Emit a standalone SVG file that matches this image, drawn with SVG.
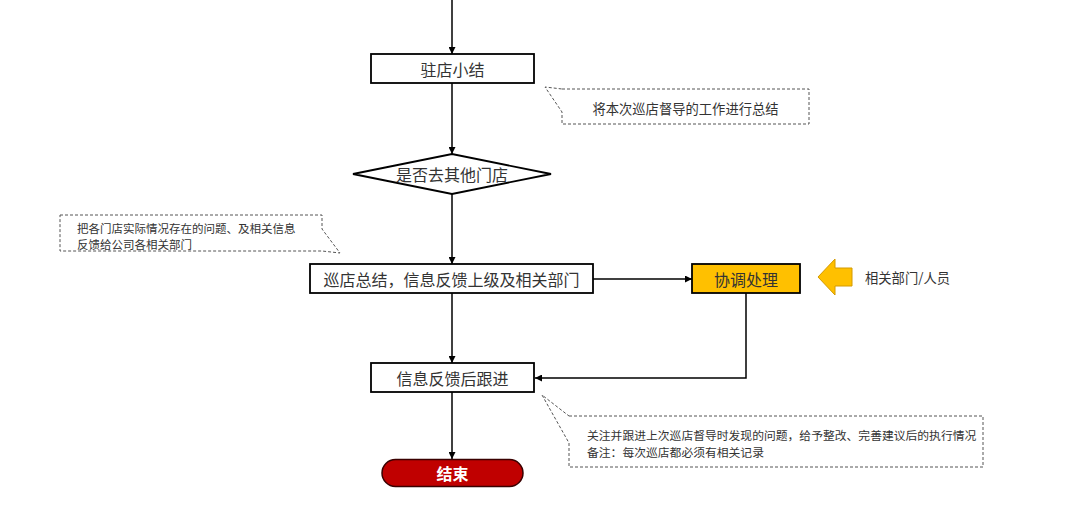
<svg xmlns="http://www.w3.org/2000/svg" width="1080" height="514" viewBox="0 0 1080 514">
<defs>
<style>
.box{fill:#fff;stroke:#000;stroke-width:1.8}
.t{font-family:"Microsoft YaHei","Noto Sans CJK SC",sans-serif;font-size:16px;fill:#333;text-anchor:middle;dominant-baseline:central}
.note{fill:#fff;stroke:#555;stroke-width:1;stroke-dasharray:3,2}
.nt{font-family:"Microsoft YaHei","Noto Sans CJK SC",sans-serif;fill:#333}
.c{fill:none;stroke:#000;stroke-width:1.5}
</style>
<marker id="ah" viewBox="0 0 10 10" refX="10" refY="5" markerWidth="7" markerHeight="7" markerUnits="userSpaceOnUse" orient="auto">
<path d="M0,0 L10,5 L0,10 Z" fill="#000"/>
</marker>
</defs>
<rect width="1080" height="514" fill="#fff"/>
<g id="connectors">
<path class="c" d="M452,0 V54" marker-end="url(#ah)"/>
<path class="c" d="M452,83 V154" marker-end="url(#ah)"/>
<path class="c" d="M452,194 V264" marker-end="url(#ah)"/>
<path class="c" d="M593,279 H692" marker-end="url(#ah)"/>
<path class="c" d="M452,293 V363" marker-end="url(#ah)"/>
<path class="c" d="M746,293 V378 H535" marker-end="url(#ah)"/>
<path class="c" d="M452,392 V459" marker-end="url(#ah)"/>
</g>
<g id="n1">
<rect class="box" x="371" y="54" width="163" height="29"/>
<text class="t" x="452.5" y="69">驻店小结</text>
</g>
<g id="note1">
<path class="note" d="M562,89 H809 V124 H562 V112 L545,87 Z"/>
<text class="nt" x="685.5" y="108" font-size="13.3" text-anchor="middle" dominant-baseline="central">将本次巡店督导的工作进行总结</text>
</g>
<g id="n2">
<polygon class="box" points="353,174 452,154 551,174 452,194"/>
<text class="t" x="452" y="174">是否去其他门店</text>
</g>
<g id="note2">
<path class="note" d="M60,215 H322 V229 L340,253 L322,251 H60 Z"/>
<text class="nt" x="77" y="228" font-size="11.5" dominant-baseline="central">把各门店实际情况存在的问题、及相关信息</text>
<text class="nt" x="77" y="243.5" font-size="11.5" dominant-baseline="central">反馈给公司各相关部门</text>
</g>
<g id="n3">
<rect class="box" x="310" y="264" width="283" height="29"/>
<text class="t" x="451.5" y="279">巡店总结，信息反馈上级及相关部门</text>
</g>
<g id="n4">
<rect x="692" y="264" width="108" height="29" fill="#FFC000" stroke="#000" stroke-width="1.8"/>
<text class="t" x="746" y="279">协调处理</text>
</g>
<g id="src">
<path d="M818,277 L835,259 V268 H852 V286 H835 V295 Z" fill="#FFC000" stroke="#D49A00" stroke-width="1"/>
<text class="nt" x="865" y="277" font-size="13.3" dominant-baseline="central">相关部门/人员</text>
</g>
<g id="n5">
<rect class="box" x="371" y="363" width="163" height="29"/>
<text class="t" x="452.5" y="378">信息反馈后跟进</text>
</g>
<g id="note3">
<path class="note" d="M569,416 H983 V467 H569 V443 L542,395 Z"/>
<text class="nt" x="587" y="434.5" font-size="11.8" dominant-baseline="central">关注并跟进上次巡店督导时发现的问题，给予整改、完善建议后的执行情况</text>
<text class="nt" x="587" y="451.5" font-size="11.8" dominant-baseline="central">备注：每次巡店都必须有相关记录</text>
</g>
<g id="end">
<rect x="382" y="459.5" width="141" height="27" rx="13.5" fill="#C00000" stroke="#3a0000" stroke-width="1.5"/>
<text class="t" x="452.5" y="473" style="fill:#fff;font-weight:bold">结束</text>
</g>
</svg>
